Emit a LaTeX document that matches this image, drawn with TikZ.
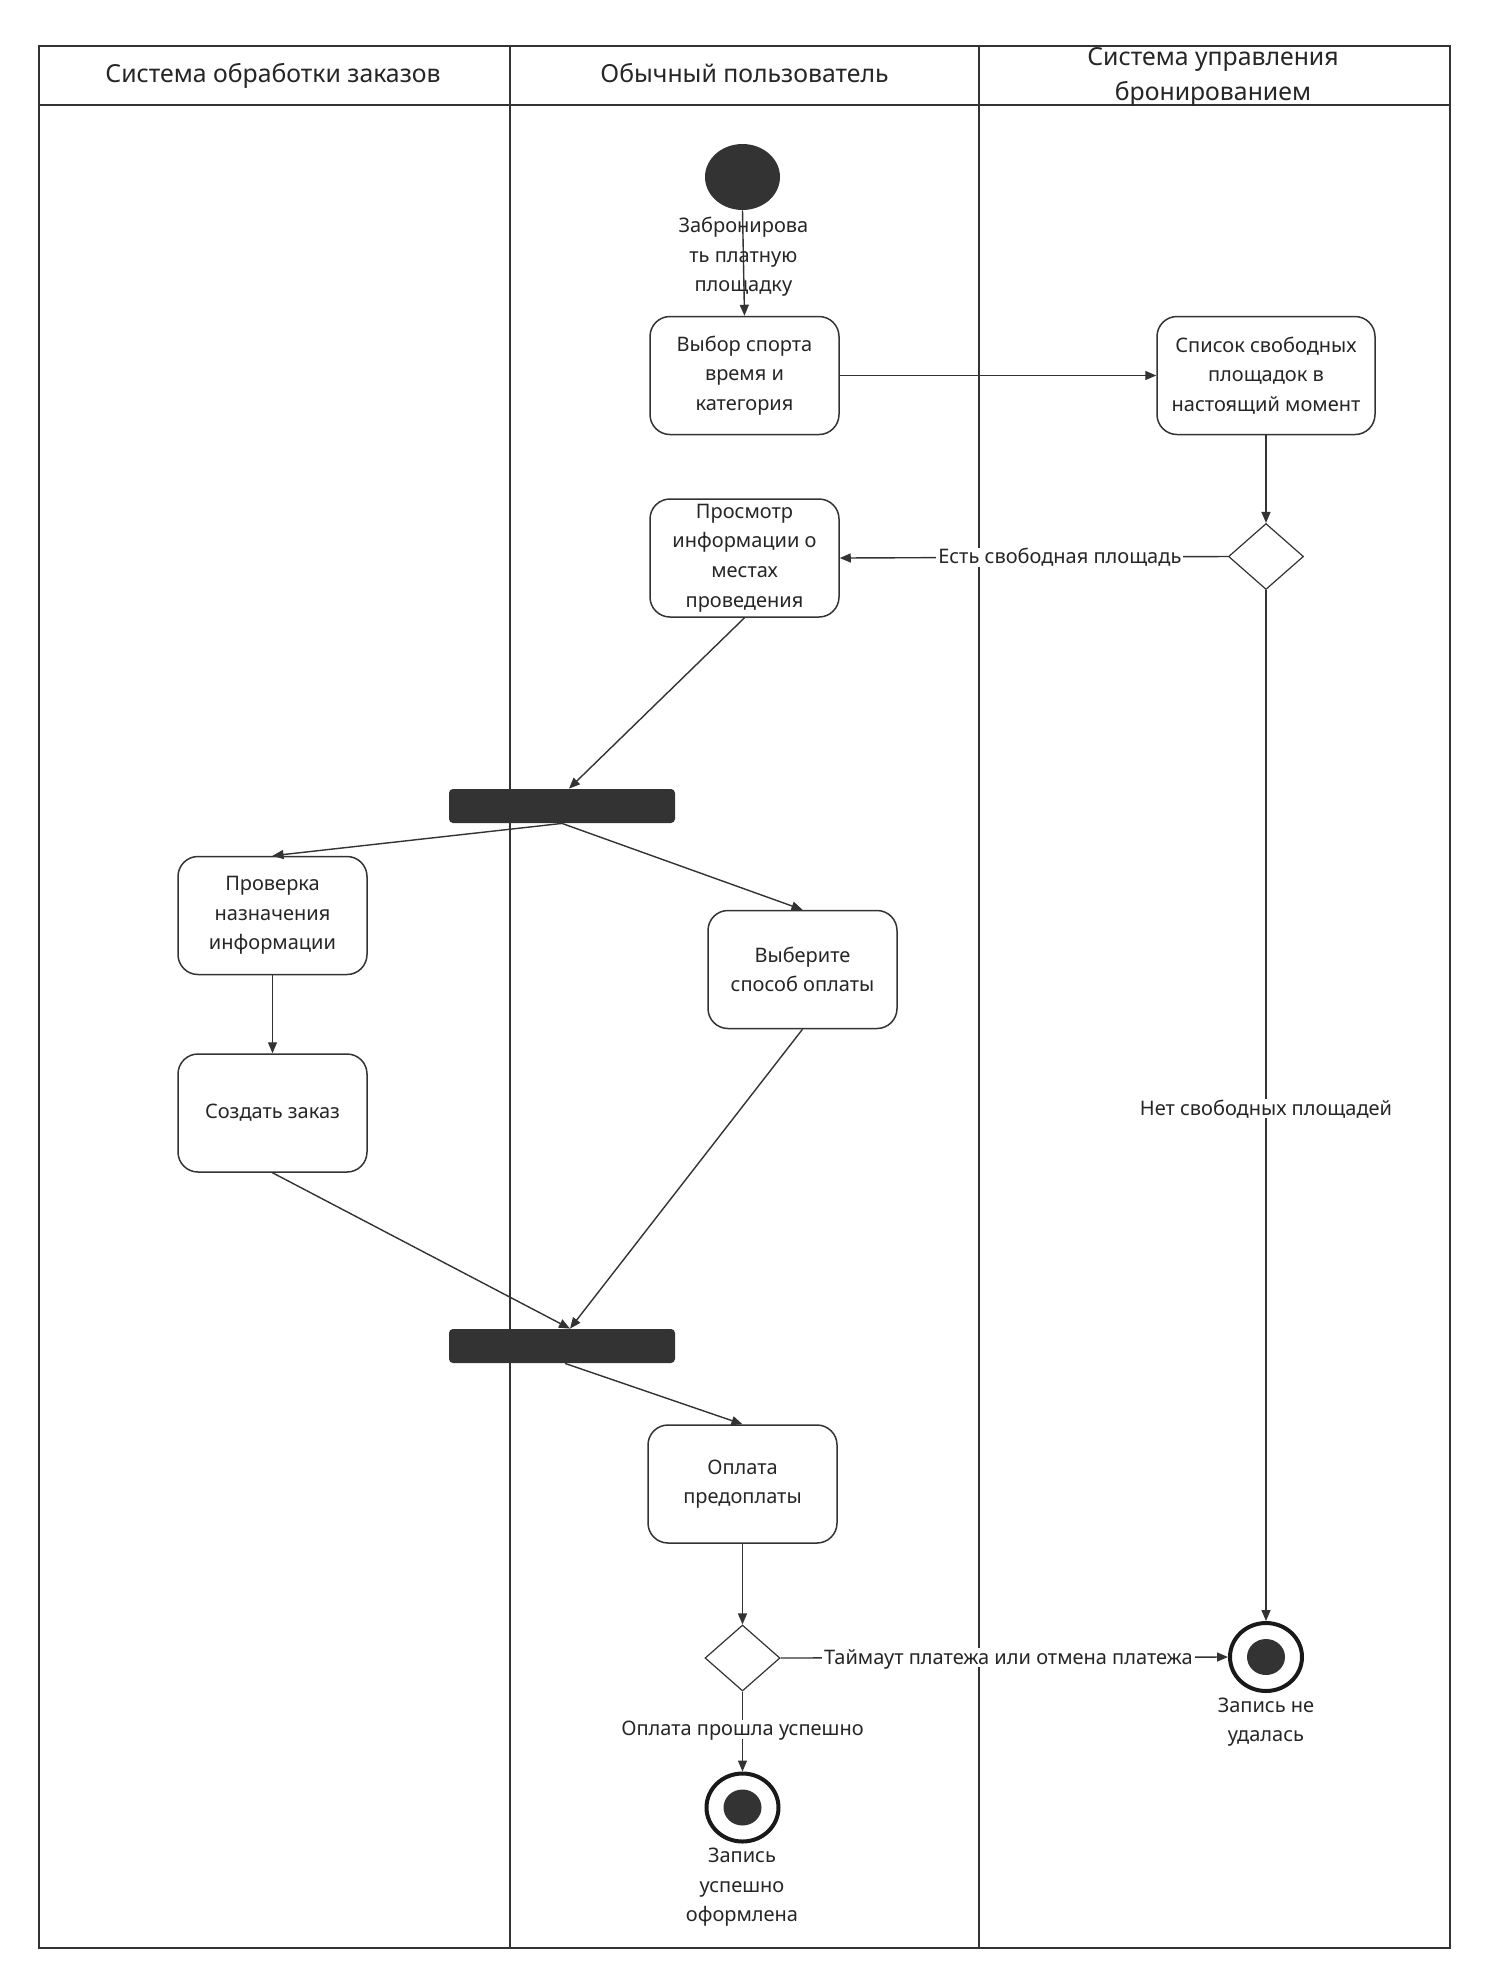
\documentclass[tikz,border=0pt]{standalone}
\usepackage{fontspec}
\setmainfont{Noto Sans}
\usetikzlibrary{arrows.meta,shapes.geometric,calc}
\definecolor{ln}{HTML}{333333}
\definecolor{txt}{HTML}{262626}
\newcommand{\nfont}{\fontsize{10pt}{14.8pt}\selectfont}
\newcommand{\hfont}{\fontsize{12.4pt}{17.7pt}\selectfont}
\begin{document}
\begin{tikzpicture}[x=0.5pt,y=-0.5pt,
  act/.style={draw=ln, line width=0.75pt, rounded corners=10pt, minimum width=94.5pt, minimum height=59pt, align=center, inner sep=0pt, font=\nfont, text=txt},
  forkbar/.style={fill=ln, draw=none, rounded corners=2pt, minimum width=113pt, minimum height=17pt, inner sep=0pt},
  dec/.style={diamond, draw=ln, line width=0.6pt, minimum width=37.5pt, minimum height=33pt, inner sep=0pt, shape aspect=1.136},
  startnode/.style={ellipse, fill=ln, draw=none, minimum width=37.5pt, minimum height=33pt, inner sep=0pt},
  endnode/.style={ellipse, draw=black!90, line width=2pt, minimum width=36pt, minimum height=34pt, inner sep=0pt,
     path picture={\fill[ln] (path picture bounding box.center) ellipse (9.5pt and 9pt);}},
  arr/.style={draw=ln, line width=0.7pt, -{Triangle[length=5.5pt,width=4.5pt]}},
  lbl/.style={font=\nfont, text=txt, fill=white, inner sep=1pt, align=center, text height=7.2pt, text depth=0.4pt},
  plainlbl/.style={font=\nfont, text=txt, inner sep=0pt, align=center},
  hdr/.style={font=\hfont, text=txt, align=center, inner sep=0pt},
  hdrone/.style={hdr, text height=12pt, text depth=3.5pt},
  lane/.style={draw=ln, line width=1pt}
]
\useasboundingbox (0,0) rectangle (1485,1983);
\fill[white] (0,0) rectangle (1485,1983);

% swimlane frame
\draw[lane] (39,45.5) rectangle (1450,1948);
\draw[lane] (39,105) -- (1450,105);
\draw[lane] (510,45.5) -- (510,1948);
\draw[lane] (979,45.5) -- (979,1948);

\node[hdrone] (h1) at (273,74) {Система обработки заказов};
\node[hdrone] (h2) at (744.5,74) {Обычный пользователь};
\node[hdr] (h3) at (1213,77) {Система управления\\бронированием};

% nodes
\node[startnode] (start) at (742.5,177) {};
\node[act] (b1) at (744.5,375.5) {Выбор спорта\\время и\\категория};
\node[act, minimum width=109pt] (b2) at (1266,375.5) {Список свободных\\площадок в\\настоящий момент};
\node[act] (b3) at (744.5,558) {Просмотр\\информации о\\местах\\проведения};
\node[dec] (d1) at (1266,556.5) {};
\node[forkbar] (f1) at (562,806) {};
\node[act] (b4) at (272.5,915.5) {Проверка\\назначения\\информации};
\node[act] (b5) at (802.5,969.5) {Выберите\\способ оплаты};
\node[act] (b6) at (272.5,1113) {Создать заказ};
\node[forkbar] (f2) at (562,1346) {};
\node[act] (b7) at (742.5,1484) {Оплата\\предоплаты};
\node[dec] (d2) at (742.5,1658) {};
\node[endnode] (e1) at (742.5,1807.5) {};
\node[endnode] (e2) at (1266,1657) {};
\node[plainlbl] (e1l) at (742,1887.5) {Запись\\успешно\\оформлена};
\node[plainlbl] (e2l) at (1266,1722) {Запись не\\удалась};

% connectors
\draw[arr] (start.south) -- node[plainlbl, pos=0.443] {Забронирова\\ть платную\\площадку} (b1.north);
\draw[arr] (b1.east) -- (b2.west);
\draw[arr] (b2.south) -- (d1.north);
\draw[arr] (d1.west) -- node[lbl, pos=0.433] {Есть свободная площадь} (b3.east);
\draw[arr] (b3.south) -- ($(f1.north)+(7,0)$);
\draw[arr] (f1.south) -- (b4.north);
\draw[arr] (f1.south) -- (b5.north);
\draw[arr] (b4.south) -- (b6.north);
\draw[arr] (b6.south) -- ($(f2.north)+(8,0)$);
\draw[arr] (b5.south) -- ($(f2.north)+(8,0)$);
\draw[arr] ($(f2.south)+(3,0)$) -- (b7.north);
\draw[arr] (b7.south) -- (d2.north);
\draw[arr] (d2.south) -- node[lbl, pos=0.47] {Оплата прошла успешно} (e1.north);
\draw[arr] (d2.east) -- node[lbl, pos=0.509] {Таймаут платежа или отмена платежа} (e2.west);
\draw[arr] (d1.south) -- node[lbl, pos=0.503] {Нет свободных площадей} (e2.north);
\end{tikzpicture}
\end{document}
